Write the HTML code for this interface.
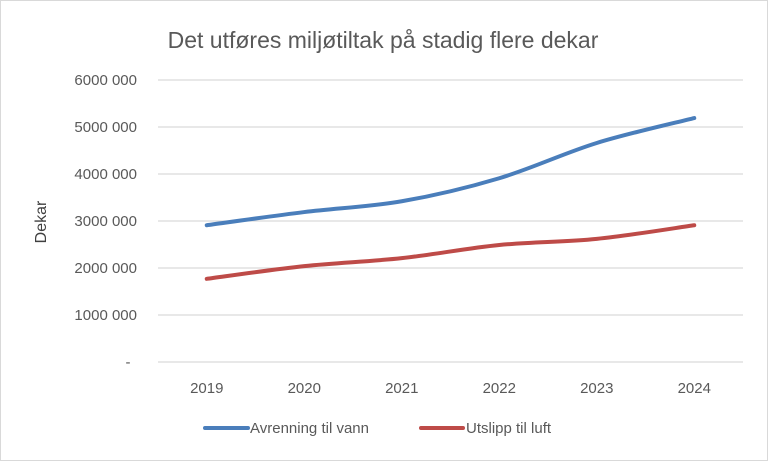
<!DOCTYPE html>
<html><head><meta charset="utf-8"><style>
body{margin:0;background:#fff}
svg text{font-family:"Liberation Sans",sans-serif}
</style></head><body>
<svg id="c" width="768" height="461">
<rect x="0.5" y="0.5" width="767" height="460" fill="#fff" stroke="#d9d9d9"/>
<text x="383" y="48" font-size="23" fill="#595959" text-anchor="middle">Det utføres miljøtiltak på stadig flere dekar</text>
<text transform="translate(46,222) rotate(-90)" font-size="16" fill="#404040" text-anchor="middle">Dekar</text>
<g id="grid"></g><g id="series"></g>
<g>
<line x1="205" y1="428" x2="248" y2="428" stroke="#4a7ebb" stroke-width="4" stroke-linecap="round"/>
<text x="250" y="433" font-size="15" fill="#595959">Avrenning til vann</text>
<line x1="421" y1="428" x2="463" y2="428" stroke="#be4b48" stroke-width="4" stroke-linecap="round"/>
<text x="466" y="433" font-size="15" fill="#595959">Utslipp til luft</text>
</g>
</svg>
<script>
const categories=["2019","2020","2021","2022","2023","2024"];
const avrenning=[2910000,3190000,3420000,3910000,4660000,5190000];
const utslipp=[1770000,2040000,2210000,2490000,2620000,2910000];
const yTicks=[0,1000000,2000000,3000000,4000000,5000000,6000000];
const yTickLabels=["-","1000 000","2000 000","3000 000","4000 000","5000 000","6000 000"];
const NS="http://www.w3.org/2000/svg";
const x0=158,x1=743,yb=362,yt=80,ymax=6000000;
const xs=i=>x0+(x1-x0)/categories.length*(i+0.5);
const ys=v=>yb-(yb-yt)*v/ymax;
const grid=document.getElementById('grid'),ser=document.getElementById('series');
function mk(t,a,p){const e=document.createElementNS(NS,t);for(const k in a)e.setAttribute(k,a[k]);p.appendChild(e);return e;}
yTicks.forEach((v,i)=>{
 const l=mk('line',{x1:x0,x2:x1,y1:ys(v),y2:ys(v),stroke:'#d9d9d9','stroke-width':1.3},grid);
 
 
 const t=mk('text',{x:v===0?128:137,y:ys(v)+5,'font-size':15,fill:'#595959','text-anchor':v===0?'middle':'end'},grid);
 t.textContent=yTickLabels[i];
 
 
});
categories.forEach((c,i)=>{
 const t=mk('text',{x:xs(i),y:393,'font-size':15,fill:'#595959','text-anchor':'middle'},grid);
 t.textContent=c;
 
 
});
function smooth(vals){
 const p=vals.map((v,i)=>[xs(i),ys(v)]);
 let d=`M${p[0][0]},${p[0][1]}`;
 for(let i=0;i<p.length-1;i++){
  const a=p[i-1]||p[i],b=p[i],c=p[i+1],e=p[i+2]||c;
  const c1=[b[0]+(c[0]-a[0])/6,b[1]+(c[1]-a[1])/6],c2=[c[0]-(e[0]-b[0])/6,c[1]-(e[1]-b[1])/6];
  d+=` C${c1[0]},${c1[1]} ${c2[0]},${c2[1]} ${c[0]},${c[1]}`;
 }
 return d;
}
const l1=mk('path',{d:smooth(avrenning),fill:'none',stroke:'#4a7ebb','stroke-width':4,'stroke-linecap':'round'},ser);


const l2=mk('path',{d:smooth(utslipp),fill:'none',stroke:'#be4b48','stroke-width':4,'stroke-linecap':'round'},ser);


</script>
</body></html>
